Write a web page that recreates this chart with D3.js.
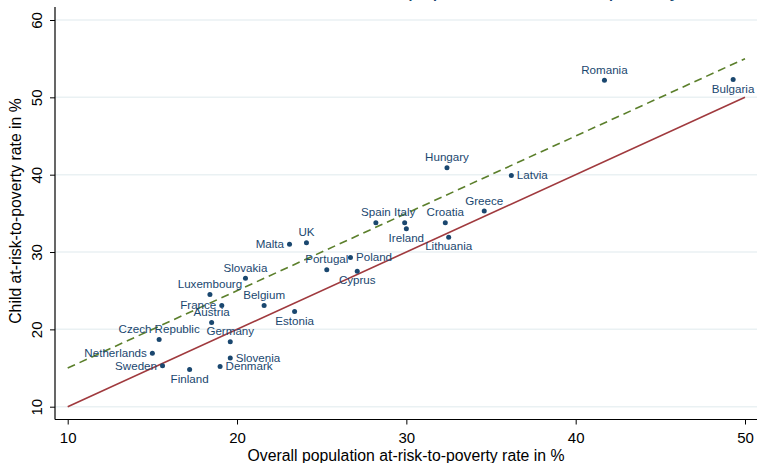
<!DOCTYPE html>
<html>
<head>
<meta charset="utf-8">
<script src="https://d3js.org/d3.v7.min.js"></script>
<style>
  body { margin: 0; background: #fff; }
  svg { display: block; font-family: "Liberation Sans", Arial, sans-serif; }
</style>
</head>
<body>
<div id="chart"></div>
<script>
  // values
  const countries = ["Romania", "Bulgaria", "Hungary", "Latvia", "Greece", "Croatia", "Spain", "Italy",
    "Ireland", "Lithuania", "Malta", "UK", "Poland", "Portugal", "Cyprus", "Slovakia", "Luxembourg",
    "France", "Belgium", "Estonia", "Austria", "Czech Republic", "Germany", "Netherlands", "Slovenia",
    "Sweden", "Denmark", "Finland"];
  const overallRate = [41.7, 49.3, 32.4, 36.2, 34.6, 32.3, 28.2, 29.9,
    30.0, 32.5, 23.1, 24.1, 26.7, 25.3, 27.1, 20.5, 18.4,
    19.1, 21.6, 23.4, 18.5, 15.4, 19.6, 15.0, 19.6,
    15.6, 19.0, 17.2];
  const childRate = [52.2, 52.3, 40.9, 39.9, 35.3, 33.8, 33.8, 33.8,
    33.0, 31.9, 31.0, 31.2, 29.3, 27.7, 27.5, 26.6, 24.5,
    23.1, 23.1, 22.3, 20.9, 18.7, 18.4, 16.9, 16.3,
    15.3, 15.2, 14.8];
  const xTicks = [10, 20, 30, 40, 50];
  const yTicks = [10, 20, 30, 40, 50, 60];
  // reference lines: y = x and y = x + 5
  const lineX = [10, 50];
  const equalLine = [10, 50];
  const plusFiveLine = [15, 55];

  // where each marker label sits (clock position)
  const labelClock = {
    "Latvia": 3, "Poland": 3, "Slovenia": 3, "Denmark": 3,
    "Malta": 9, "France": 9, "Netherlands": 9, "Sweden": 9,
    "Bulgaria": 6, "Ireland": 6, "Lithuania": 6, "Cyprus": 6, "Estonia": 6, "Finland": 6
  };

  const W = 757, H = 463;
  const navy = "#1a476f";

  const svg = d3.select("#chart").append("svg")
    .attr("width", W)
    .attr("height", H);

  const x = d3.scaleLinear().domain([10, 50]).range([67.7, 745]);
  const y = d3.scaleLinear().domain([10, 60]).range([406.7, 20]);

  const plotLeft = 55, plotBottom = 419.5, plotTop = 7;

  // title, cut off at the top edge (only descenders show)
  const title = svg.append("text")
    .attr("y", -4.5)
    .style("font-size", "22px")
    .attr("fill", navy)
    .text("Child vs. overall population at-risk-to-poverty rate");
  const pIdx = title.text().indexOf("population");
  const off = title.node().getStartPositionOfChar(pIdx).x;
  title.attr("x", 408 - off);

  // gridlines
  svg.append("g")
    .selectAll("line")
    .data(yTicks)
    .join("line")
    .attr("x1", plotLeft).attr("x2", W)
    .attr("y1", d => y(d)).attr("y2", d => y(d))
    .attr("stroke", "#eaf1f3")
    .attr("stroke-width", 1.5);

  // reference lines
  const line = d3.line().x(d => x(d[0])).y(d => y(d[1]));
  svg.append("path")
    .attr("d", line(d3.zip(lineX, equalLine)))
    .attr("fill", "none")
    .attr("stroke", "#a03a3e")
    .attr("stroke-width", 1.6);
  svg.append("path")
    .attr("d", line(d3.zip(lineX, plusFiveLine)))
    .attr("fill", "none")
    .attr("stroke", "#5b7f2b")
    .attr("stroke-width", 1.6)
    .attr("stroke-dasharray", "8,5");

  // points
  const pts = countries.map((c, i) => ({ name: c, ov: overallRate[i], ch: childRate[i] }));

  svg.append("g")
    .selectAll("circle")
    .data(pts)
    .join("circle")
    .attr("cx", d => x(d.ov))
    .attr("cy", d => y(d.ch))
    .attr("r", 2.5)
    .attr("fill", navy);

  svg.append("g")
    .selectAll("text")
    .data(pts)
    .join("text")
    .style("font-size", "11.6px")
    .attr("fill", navy)
    .attr("text-anchor", d => {
      const c = labelClock[d.name] || 12;
      return c == 3 ? "start" : c == 9 ? "end" : "middle";
    })
    .attr("x", d => {
      const c = labelClock[d.name] || 12;
      return x(d.ov) + (c == 3 ? 5.5 : c == 9 ? -5.5 : 0);
    })
    .attr("y", d => {
      const c = labelClock[d.name] || 12;
      return y(d.ch) + (c == 12 ? -6.5 : c == 6 ? 13 : 4);
    })
    .text(d => d.name);

  // axes
  const xAxis = svg.append("g")
    .attr("transform", `translate(0,${plotBottom})`)
    .call(d3.axisBottom(x).tickValues(xTicks).tickSize(5).tickPadding(8));
  xAxis.select(".domain").remove();
  xAxis.selectAll("text").style("font-size", "15px").attr("fill", "#000");
  xAxis.selectAll("line").attr("stroke", "#000");

  const yAxis = svg.append("g")
    .attr("transform", `translate(${plotLeft},0)`)
    .call(d3.axisLeft(y).tickValues(yTicks).tickSize(5).tickPadding(9));
  yAxis.select(".domain").remove();
  yAxis.selectAll("line").attr("stroke", "#000");
  yAxis.selectAll("text")
    .style("font-size", "15px")
    .attr("fill", "#000")
    .attr("text-anchor", "middle")
    .attr("dy", 0)
    .attr("x", 0)
    .attr("transform", "translate(-13.5,0) rotate(-90)");

  svg.append("line")
    .attr("x1", plotLeft).attr("x2", W)
    .attr("y1", plotBottom).attr("y2", plotBottom)
    .attr("stroke", "#000").attr("stroke-width", 1.2);
  svg.append("line")
    .attr("x1", plotLeft).attr("x2", plotLeft)
    .attr("y1", plotTop).attr("y2", plotBottom)
    .attr("stroke", "#000").attr("stroke-width", 1.2);

  // axis titles
  svg.append("text")
    .attr("x", (plotLeft + W) / 2)
    .attr("y", 461)
    .attr("text-anchor", "middle")
    .style("font-size", "15.8px")
    .text("Overall population at-risk-to-poverty rate in %");

  svg.append("text")
    .attr("transform", "translate(21,211) rotate(-90)")
    .attr("text-anchor", "middle")
    .style("font-size", "15.8px")
    .text("Child at-risk-to-poverty rate in %");
</script>
</body>
</html>
